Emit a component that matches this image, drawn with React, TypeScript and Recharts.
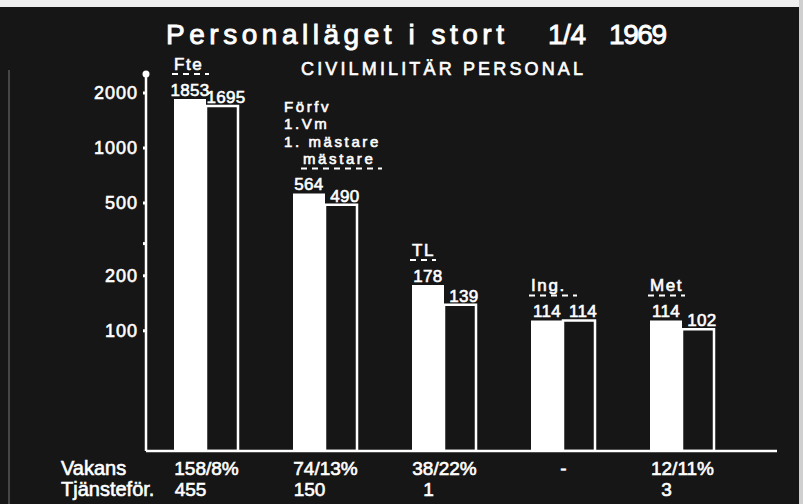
import { BarChart, Bar, XAxis, YAxis, LabelList } from 'recharts'

const categories = ['Fte', 'Förfv', 'TL', 'Ing.', 'Met']
const groupHeads = [['Fte'], ['Förfv', '1.Vm', '1. mästare', 'mästare'], ['TL'], ['Ing.'], ['Met']]
const organisation = [1853, 564, 178, 114, 114]
const besatta = [1695, 490, 139, 114, 102]
const vakans = ['158/8%', '74/13%', '38/22%', '-', '12/11%']
const tjanstefor = ['455', '150', '1', '', '3']
const yTicks = [100, 200, 300, 400, 500, 1000, 2000]
const yLabelled = [100, 200, 500, 1000, 2000]

const data = categories.map((name, i) => ({
  name,
  org: organisation[i],
  bes: besatta[i],
}))

const BG = '#161616'
const FONT = '"Liberation Sans", Arial, sans-serif'
// a thin white outline makes the glyphs a little heavier, like the stencil lettering
const INK = { fill: '#fff', stroke: '#fff', strokeWidth: 0.6 }

function YTick(props: any) {
  const { x, y, payload } = props
  const v = payload.value
  return (
    <g>
      <rect x={x + 5} y={y - 1.5} width={3} height={3} fill="#fff" />
      {yLabelled.includes(v) && (
        <text x={x} y={y + 6} textAnchor="end" {...INK} fontSize={18} fontFamily={FONT} letterSpacing={1}>
          {v}
        </text>
      )}
    </g>
  )
}

function XTick(props: any) {
  const { x, y, payload } = props
  const i = categories.indexOf(payload.value)
  return (
    <g {...INK} fontFamily={FONT} fontSize={19}>
      <text x={x + 1} y={y + 16} textAnchor="middle">{vakans[i]}</text>
      <text x={x - 15} y={y + 37} textAnchor="middle">{tjanstefor[i]}</text>
    </g>
  )
}

function HeadLabel(props: any) {
  const { x, y, index } = props
  const lines = groupHeads[index]
  const multi = lines.length > 1
  const size = multi ? 15 : 17
  const step = 17.5
  const base = y - 29
  return (
    <g fontFamily={FONT} fontSize={size} letterSpacing={multi ? 2.6 : 1.6}>
      {lines.map((t, k) => {
        const last = k === lines.length - 1
        const ly = base - (lines.length - 1 - k) * step
        const lx = x + (multi ? (last ? 10 : -9) : 0)
        const w = t.length * 11 + 2
        return (
          <g key={k}>
            <text x={lx} y={ly} {...INK}>{t}</text>
            {last && (
              <line x1={lx - 2} x2={lx + w} y1={ly + 4} y2={ly + 4} stroke="#fff" strokeWidth={2} strokeDasharray="6 5" />
            )}
          </g>
        )
      })}
    </g>
  )
}

function ValueLabel(props: any) {
  const { x, y, width, value, dx = 0 } = props
  return (
    <text x={x + width / 2 + dx} y={y - 3} textAnchor="middle" {...INK} fontFamily={FONT} fontSize={17} letterSpacing={0.3}>
      {value}
    </text>
  )
}

export default function App() {
  return (
    <div style={{ position: 'absolute', left: 0, top: 0, width: 803, height: 504, background: BG, overflow: 'hidden' }}>
      <BarChart width={803} height={504} data={data} margin={{ top: 74, right: 26, bottom: 0, left: 0 }} barGap={0}>
        <XAxis
          dataKey="name"
          height={53}
          interval={0}
          padding={{ left: 0, right: 36 }}
          axisLine={{ stroke: '#fff', strokeWidth: 2.5 }}
          tickLine={false}
          tick={<XTick />}
        />
        <YAxis
          type="number"
          scale="log"
          domain={[22, 2540]}
          allowDataOverflow
          ticks={yTicks}
          width={146}
          tickSize={6}
          tickMargin={2}
          tickLine={false}
          axisLine={{ stroke: '#fff', strokeWidth: 2.5 }}
          tick={<YTick />}
          label={{
            content: (p: any) => {
              const vb = p.viewBox || {}
              return <circle cx={vb.x + vb.width} cy={vb.y} r={3.5} fill="#fff" />
            },
          }}
        />
        <Bar dataKey="org" fill="#fff" barSize={32} isAnimationActive={false}>
          <LabelList dataKey="org" content={<ValueLabel />} />
          <LabelList dataKey="name" content={<HeadLabel />} />
        </Bar>
        <Bar dataKey="bes" fill={BG} stroke="#fff" strokeWidth={2.5} barSize={32} isAnimationActive={false}>
          <LabelList dataKey="bes" content={<ValueLabel dx={4} />} />
        </Bar>
      </BarChart>
      <svg width={803} height={504} style={{ position: 'absolute', left: 0, top: 0, pointerEvents: 'none' }}>
        <rect x={0} y={0} width={803} height={7} fill="#efefef" />
        <rect x={799} y={0} width={4} height={504} fill="#cfcfcf" />
        <line x1={9} x2={9} y1={70} y2={504} stroke="#777" strokeWidth={1} />
        <g fontFamily={FONT} {...INK}>
          <text x={166} y={44} fontSize={28} strokeWidth={0.9} textLength={338} lengthAdjust="spacing">Personalläget i stort</text>
          <text x={548} y={44} fontSize={28} strokeWidth={0.9} textLength={38} lengthAdjust="spacing">1/4</text>
          <text x={609} y={44} fontSize={28} strokeWidth={0.9} textLength={58} lengthAdjust="spacing">1969</text>
          <text x={301} y={75} fontSize={18} textLength={282} lengthAdjust="spacing">CIVILMILITÄR PERSONAL</text>
          <text x={61} y={475} fontSize={20}>Vakans</text>
          <text x={61} y={496} fontSize={20}>Tjänsteför.</text>
        </g>
      </svg>
    </div>
  )
}
